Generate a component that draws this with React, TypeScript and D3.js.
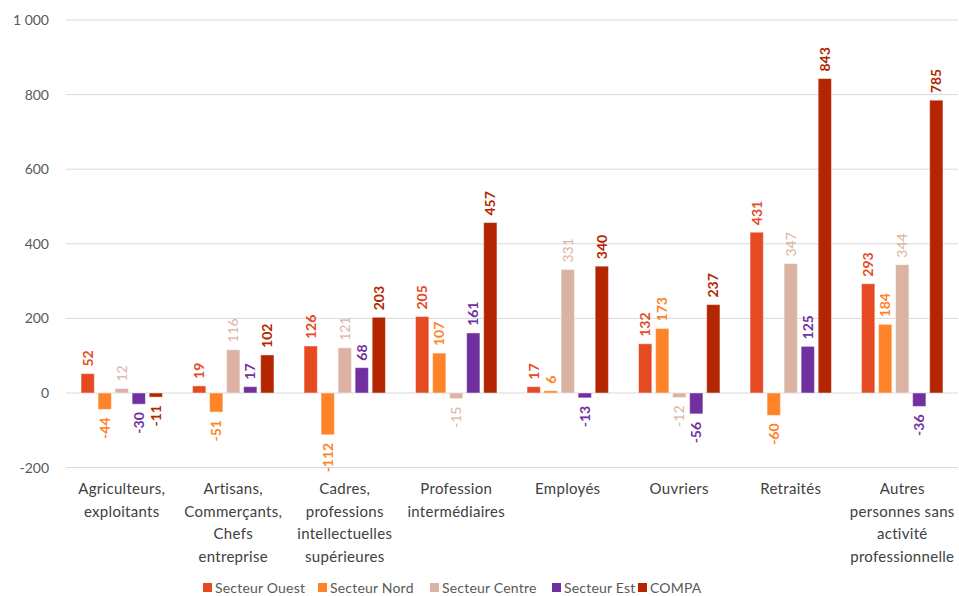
import React from "react";
import * as d3 from "d3";

const categories: string[][] = [
  ["Agriculteurs,", "exploitants"],
  ["Artisans,", "Commerçants,", "Chefs", "entreprise"],
  ["Cadres,", "professions", "intellectuelles", "supérieures"],
  ["Profession", "intermédiaires"],
  ["Employés"],
  ["Ouvriers"],
  ["Retraités"],
  ["Autres", "personnes sans", "activité", "professionnelle"],
];

const seriesNames = ["Secteur Ouest", "Secteur Nord", "Secteur Centre", "Secteur Est", "COMPA"];
const seriesColors = ["#E64A22", "#FF8429", "#DBB3A3", "#7030A0", "#B32600"];
const seriesBold = [true, true, false, true, true];

const ouest = [52, 19, 126, 205, 17, 132, 431, 293];
const nord = [-44, -51, -112, 107, 6, 173, -60, 184];
const centre = [12, 116, 121, -15, 331, -12, 347, 344];
const est = [-30, 17, 68, 161, -13, -56, 125, -36];
const compa = [-11, 102, 203, 457, 340, 237, 843, 785];
const seriesValues = [ouest, nord, centre, est, compa];

const yTicks = [-200, 0, 200, 400, 600, 800, 1000];

const W = 959;
const H = 596;
const FONT = "Lato, 'Open Sans', sans-serif";

export default function App() {
  const catIdx = categories.map((_, i) => String(i));
  const x0 = d3.scaleBand<string>().domain(catIdx).range([66, 958]).paddingInner(0.27).paddingOuter(0.135);
  const x1 = d3.scaleBand<string>().domain(seriesNames).range([0, x0.bandwidth()]).paddingInner(0.22);
  const y = d3.scaleLinear().domain([-200, 1000]).range([467.6, 20]);
  const fmt = (v: number) => d3.format(",")(v).replace(/,/g, " ").replace(/\u2212/g, "-");

  const legendX = [203, 318, 430, 552, 638];

  return (
    <svg width={W} height={H} style={{ position: "absolute", left: 0, top: 0, background: "#fff" }} fontFamily={FONT}>
      {yTicks.map((t) => (
        <g key={t}>
          <line x1={66} x2={958} y1={y(t)} y2={y(t)} stroke="#D9D9D9" strokeWidth={1} />
          <text x={49} y={y(t)} dy="0.35em" textAnchor="end" fontSize={14} fill="#595959">
            {fmt(t)}
          </text>
        </g>
      ))}
      {categories.map((lines, ci) => (
        <g key={ci}>
          {seriesNames.map((s, si) => {
            const v = seriesValues[si][ci];
            const bx = (x0(String(ci)) as number) + (x1(s) as number);
            const bw = x1.bandwidth();
            const top = Math.min(y(v), y(0));
            const h = Math.abs(y(v) - y(0));
            const cx = bx + bw / 2;
            const ly = v >= 0 ? y(v) - 7 : y(v) + 8;
            return (
              <g key={s}>
                <rect x={bx} y={top} width={bw} height={h} fill={seriesColors[si]} stroke="#fff" strokeOpacity={0.45} strokeWidth={1} />
                <text
                  transform={`translate(${cx},${ly}) rotate(-90)`}
                  textAnchor={v >= 0 ? "start" : "end"}
                  dy="0.35em"
                  fontSize={14}
                  fontWeight={seriesBold[si] ? 700 : 400}
                  fill={seriesColors[si]}
                >
                  {fmt(v)}
                </text>
              </g>
            );
          })}
          {lines.map((ln, li) => (
            <text
              key={li}
              x={(x0(String(ci)) as number) + x0.bandwidth() / 2}
              y={494 + li * 22.5}
              textAnchor="middle"
              fontSize={15}
              letterSpacing={0.3}
              fill="#404040"
            >
              {ln}
            </text>
          ))}
        </g>
      ))}
      {seriesNames.map((s, si) => (
        <g key={s}>
          <rect x={legendX[si]} y={583} width={9} height={9} fill={seriesColors[si]} />
          <text x={legendX[si] + 12} y={593} fontSize={14} letterSpacing={0.2} fill="#595959">
            {s}
          </text>
        </g>
      ))}
    </svg>
  );
}
